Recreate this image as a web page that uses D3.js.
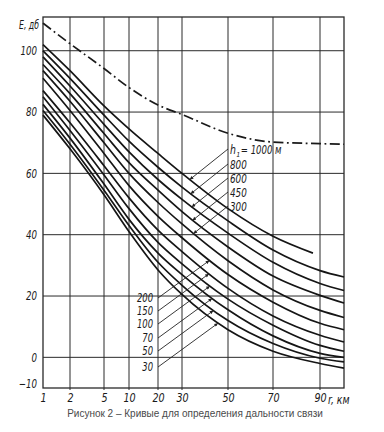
<!DOCTYPE html>
<html><head><meta charset="utf-8">
<script src="https://cdn.jsdelivr.net/npm/d3@7"></script>
<style>
html,body{margin:0;padding:0;background:#fff;}
svg{display:block;}
.lab{font-family:"Liberation Sans Narrow","DejaVu Sans Condensed","Liberation Sans",sans-serif;font-style:italic;fill:#1a1a1a;}
</style></head><body>
<svg id="chart" width="384" height="432"></svg>
<script>
// ---- data ----
const kmTicks = [1, 2, 5, 10, 20, 30, 50, 70, 90];
const eTicks = [100, 80, 60, 40, 20, 0, -10];
const eGrid = [100, 80, 60, 40, 20, 0];
const km = [1, 2, 5, 10, 20, 30, 50, 70, 90, 100];
const freeSpace = [109, 102.3, 94.2, 88, 82.3, 79.2, 73.1, 70.2, 69.7, 69.5];
const km1000 = [1, 2, 5, 10, 20, 30, 50, 70, 87];
const h1000 = [102, 93.5, 82, 74.5, 66.5, 60, 48.5, 39.5, 34];
const h800 = [100, 91, 79, 70.5, 62, 55.5, 44.5, 35, 28.3, 26.2];
const h600 = [98, 88.5, 76, 67, 58, 51.5, 40.5, 31, 24.1, 21.8];
const h450 = [95.5, 86, 73, 63.5, 54.5, 47.5, 36, 26.5, 20.2, 17.7];
const h300 = [93.5, 83.5, 70, 60, 50.5, 43.5, 31.5, 22, 15.3, 13];
const h200 = [91, 80.5, 66.5, 56, 46, 39, 27, 18, 11.1, 9];
const h150 = [87, 76.5, 62.5, 52, 41.5, 34.5, 22.5, 13.5, 7.2, 5];
const h100 = [85, 74, 59.5, 48.5, 37.5, 30.5, 19, 10.5, 3.9, 2];
const h70 = [82.5, 71.5, 56.5, 45, 34, 27, 15.5, 7, 1.3, 0];
const h50 = [80.5, 69.5, 54.5, 43, 31, 23.5, 12, 4.5, -0.3, -1.5];
const h30 = [79, 68, 53, 41, 28.5, 20.5, 9, 2, -2, -3.5];
const upperLabels = ["1000", "800", "600", "450", "300"];
const lowerLabels = ["200", "150", "100", "70", "50", "30"];
const caption = "Рисунок 2 – Кривые для определения дальности связи";

const series = [
  {h: "1000", x: km1000, y: h1000},
  {h: "800", x: km, y: h800},
  {h: "600", x: km, y: h600},
  {h: "450", x: km, y: h450},
  {h: "300", x: km, y: h300},
  {h: "200", x: km, y: h200},
  {h: "150", x: km, y: h150},
  {h: "100", x: km, y: h100},
  {h: "70", x: km, y: h70},
  {h: "50", x: km, y: h50},
  {h: "30", x: km, y: h30}
];

// ---- scales ----
const x = d3.scaleLinear()
  .domain([1, 2, 5, 10, 20, 30, 50, 70, 90, 100])
  .range([43, 70, 104, 129, 158, 182, 228, 273, 320, 344]);
const y = d3.scaleLinear().domain([-10, 111]).range([388, 17]);

const svg = d3.select("#chart");
svg.append("rect").attr("width", 384).attr("height", 432).attr("fill", "#fff");

// condense a text element horizontally
function narrow(sel, k) {
  sel.each(function() {
    const w = this.getComputedTextLength();
    d3.select(this).attr("textLength", w * k).attr("lengthAdjust", "spacingAndGlyphs");
  });
}

const defs = svg.append("defs");
defs.append("marker").attr("id", "arr").attr("viewBox", "0 0 10 10")
  .attr("refX", 10).attr("refY", 5).attr("markerWidth", 6).attr("markerHeight", 4)
  .attr("orient", "auto")
  .append("path").attr("d", "M0,0L10,5L0,10z").attr("fill", "#222");

const [x0, x1] = [x(1), x(100)];
const [yb, yt] = [y(-10), y(111)];

// grid
const g = svg.append("g").attr("stroke", "#2a2a2a").attr("stroke-width", 1).attr("fill", "none");
g.selectAll("line.v").data(kmTicks.slice(1)).join("line")
  .attr("x1", d => x(d)).attr("x2", d => x(d)).attr("y1", yt).attr("y2", yb + 2);
g.selectAll("line.h").data(eGrid).join("line")
  .attr("x1", x0).attr("x2", x1).attr("y1", d => y(d)).attr("y2", d => y(d));
g.append("rect").attr("x", x0).attr("y", yt).attr("width", x1 - x0).attr("height", yb - yt)
  .attr("stroke-width", 1.3);

// axes labels
const yAxis = d3.axisLeft(y).tickValues(eTicks).tickSize(0).tickPadding(6).tickFormat(d3.format("d"));
const ya = svg.append("g").attr("transform", `translate(${x0},0)`).call(yAxis);
ya.select(".domain").remove();
ya.selectAll("text").attr("class", "lab").attr("font-size", 12).attr("fill", "#1a1a1a")
  .attr("dy", d => d === -10 ? "-0.05em" : "0.32em").call(narrow, 0.8);

const xAxis = d3.axisBottom(x).tickValues(kmTicks).tickSize(0).tickPadding(5).tickFormat(d3.format("d"));
const xa = svg.append("g").attr("transform", `translate(0,${yb})`).call(xAxis);
xa.select(".domain").remove();
xa.selectAll("text").attr("class", "lab").attr("font-size", 13).attr("fill", "#1a1a1a").call(narrow, 0.82);

svg.append("text").attr("class", "lab").attr("x", x(90) + 8).attr("y", yb + 16)
  .attr("font-size", 13).text("r, км").call(narrow, 0.8);
svg.append("text").attr("class", "lab").attr("x", 19).attr("y", 29)
  .attr("font-size", 12).text("E, дб").call(narrow, 0.72);

// curves
const line = d3.line().curve(d3.curveMonotoneX);
svg.append("path")
  .attr("d", line(km.map((k, i) => [x(k), y(freeSpace[i])])))
  .attr("fill", "none").attr("stroke", "#1a1a1a").attr("stroke-width", 1.7)
  .attr("stroke-dasharray", "10,3.5,1.8,3.5");

const paths = {};
series.forEach(s => {
  paths[s.h] = svg.append("path")
    .attr("d", line(s.x.map((k, i) => [x(k), y(s.y[i])])))
    .attr("fill", "none").attr("stroke", "#151515").attr("stroke-width", 1.7).node();
});

// find intersection of ray with curve
function hit(pathNode, sx, sy, slope, dir) {
  const L = pathNode.getTotalLength();
  let best = null, prev = null;
  for (let l = 0; l <= L; l += 0.5) {
    const p = pathNode.getPointAtLength(l);
    const f = (p.y - sy) - slope * (p.x - sx);
    if (prev && Math.sign(f) !== Math.sign(prev.f)) {
      const t = prev.f / (prev.f - f);
      const px = prev.p.x + t * (p.x - prev.p.x), py = prev.p.y + t * (p.y - prev.p.y);
      if ((px - sx) * dir > 0) {
        if (!best || Math.abs(px - sx) < Math.abs(best[0] - sx)) best = [px, py];
      }
    }
    prev = {p, f};
  }
  return best;
}

// upper labels
const upBase = [154, 169, 183, 197, 211];
upperLabels.forEach((h, i) => {
  const bx = 230, by = upBase[i];
  if (i === 0) {
    const t1 = svg.append("text").attr("class", "lab").attr("x", bx).attr("y", by)
      .attr("font-size", 13).text("h");
    narrow(t1, 0.8);
    const w1 = t1.node().getComputedTextLength() * 0.8;
    svg.append("text").attr("class", "lab").attr("x", bx + w1 + 1.5).attr("y", by + 2.5)
      .attr("font-size", 7).text("1");
    const t3 = svg.append("text").attr("class", "lab").attr("x", bx + w1 + 6).attr("y", by)
      .attr("font-size", 12.5).text("= " + h + " м");
    narrow(t3, 0.76);
  } else {
    const t = svg.append("text").attr("class", "lab").attr("x", bx).attr("y", by)
      .attr("font-size", 12.5).text(h);
    narrow(t, 0.78);
  }
  const sx = bx - 2, sy = by - 5;
  const end = hit(paths[h], sx, sy, -0.8, -1);
  if (end) svg.append("line").attr("x1", sx).attr("y1", sy).attr("x2", end[0]).attr("y2", end[1])
    .attr("stroke", "#222").attr("stroke-width", 0.9).attr("marker-end", "url(#arr)");
});

// lower labels
const lowBase = [302, 315, 328, 342, 355, 371];
lowerLabels.forEach((h, i) => {
  const by = lowBase[i];
  const t = svg.append("text").attr("class", "lab").attr("x", 153).attr("y", by).attr("font-size", 12)
    .attr("text-anchor", "end").text(h);
  narrow(t, 0.78);
  const sx = x(20), sy = by - 4;
  const end = hit(paths[h], sx, sy, -0.73, 1);
  if (end) svg.append("line").attr("x1", sx).attr("y1", sy).attr("x2", end[0]).attr("y2", end[1])
    .attr("stroke", "#222").attr("stroke-width", 0.9).attr("marker-end", "url(#arr)");
});

// caption
svg.append("text").attr("x", 195).attr("y", 417).attr("text-anchor", "middle")
  .attr("font-family", "Liberation Sans, Arial, sans-serif").attr("font-size", 10)
  .attr("fill", "#4a4a4a").text(caption);
</script>
</body></html>
